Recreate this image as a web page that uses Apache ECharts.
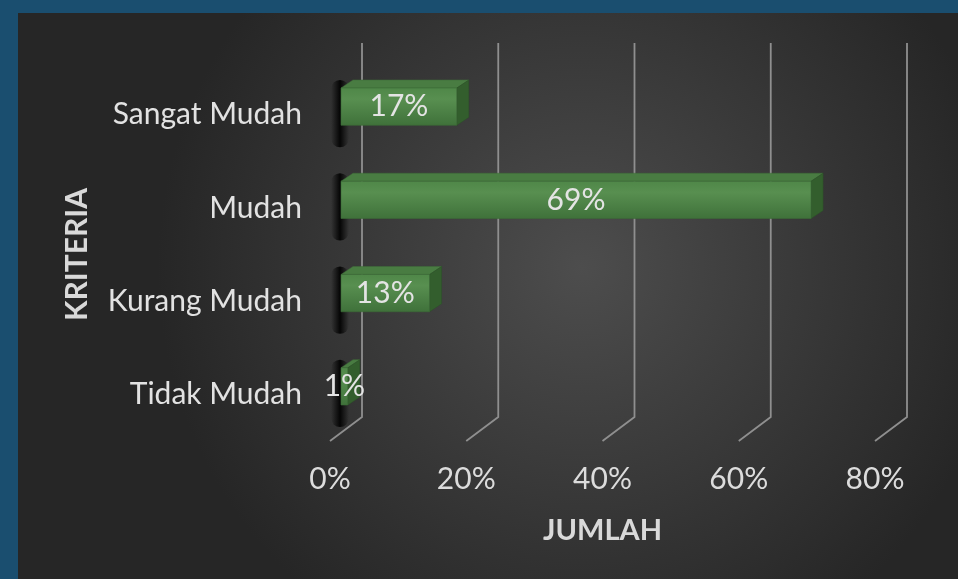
<!DOCTYPE html>
<html>
<head>
<meta charset="utf-8">
<script src="https://cdn.jsdelivr.net/npm/echarts@6/dist/echarts.min.js"></script>
<style>
  html, body { margin: 0; padding: 0; background: #1a4e6f; }
  #chart { width: 958px; height: 579px; }
</style>
</head>
<body>
<div id="chart"></div>
<script>
// data (top to bottom)
var categories = ['Sangat Mudah', 'Mudah', 'Kurang Mudah', 'Tidak Mudah'];
var values = [17, 69, 13, 1];
var ticks = [0, 20, 40, 60, 80];

var FONT = 'Lato';
var DEPTH_X = 32, DEPTH_Y = -24;   // 3d depth of the plot box

var chart = echarts.init(document.getElementById('chart'));

// back wall gridlines + floor diagonals
function renderGrid(params, api) {
    var cs = params.coordSys;
    var p = api.coord([api.value(0), 0]);
    var x = p[0];
    var bottom = cs.y + cs.height;
    return {
        type: 'polyline',
        shape: {
            points: [
                [x + DEPTH_X, cs.y + DEPTH_Y - 1],
                [x + DEPTH_X, bottom + DEPTH_Y],
                [x, bottom]
            ]
        },
        style: { fill: null, stroke: '#8f8f8f', lineWidth: 1.8 },
        silent: true
    };
}

// 3d bar: shadow, front, top, right face and the label
function renderBar(params, api) {
    var cat = api.value(1);
    var val = api.value(0);
    var p0 = api.coord([0, cat]);
    var p1 = api.coord([val, cat]);
    var band = api.size([0, 1])[1];
    var h = band * 0.4;
    var offX = 11, offY = -8;
    var dx = 12, dy = -8;
    var x0 = p0[0] + offX, x1 = p1[0] + offX;
    var cy = p0[1] + offY;
    var y0 = cy - h / 2, y1 = cy + h / 2;
    return {
        type: 'group',
        children: [
            {
                type: 'rect',
                shape: { x: x0 - 10, y: y0 - 8, width: 18, height: h + 30, r: 9 },
                style: {
                    fill: new echarts.graphic.LinearGradient(0, 0, 1, 0, [
                        { offset: 0, color: 'rgba(0,0,0,0)' },
                        { offset: 0.5, color: 'rgba(0,0,0,0.9)' },
                        { offset: 1, color: 'rgba(0,0,0,0)' }
                    ])
                },
                silent: true
            },
            {
                type: 'polygon',
                shape: { points: [[x0, y0], [x1, y0], [x1 + dx, y0 + dy], [x0 + dx, y0 + dy]] },
                style: { fill: '#497c42', stroke: '#3f6f39', lineWidth: 0.5 }
            },
            {
                type: 'polygon',
                shape: { points: [[x1, y0], [x1 + dx, y0 + dy], [x1 + dx, y1 + dy], [x1, y1]] },
                style: { fill: '#335e2d', stroke: '#2d5228', lineWidth: 0.5 }
            },
            {
                type: 'rect',
                shape: { x: x0, y: y0, width: x1 - x0, height: h },
                style: {
                    fill: new echarts.graphic.LinearGradient(0, 0, 0, 1, [
                        { offset: 0, color: '#4f8748' },
                        { offset: 0.3, color: '#588f50' },
                        { offset: 1, color: '#3f713a' }
                    ]),
                    stroke: '#3b6a35', lineWidth: 0.6
                }
            },
            {
                type: 'text',
                style: {
                    x: (x0 + x1) / 2, y: cy,
                    text: val + '%',
                    fill: '#e4e4e4',
                    font: '30px ' + FONT,
                    align: 'center', verticalAlign: 'middle'
                },
                z2: 10
            }
        ]
    };
}

var option = {
    backgroundColor: '#1a4e6f',
    animation: false,
    graphic: [
        {
            type: 'rect',
            z: -100,
            shape: { x: 18, y: 13, width: 940, height: 566 },
            style: {
                fill: new echarts.graphic.RadialGradient(0.6, 0.45, 0.75, [
                    { offset: 0, color: '#4d4d4d' },
                    { offset: 1, color: '#262626' }
                ])
            },
            silent: true
        }
    ],
    grid: {
        left: 330,
        width: 545,
        top: 68,
        bottom: 138
    },
    xAxis: {
        type: 'value',
        min: 0,
        max: 80,
        interval: 20,
        name: 'JUMLAH',
        nameLocation: 'middle',
        nameGap: 75,
        nameTextStyle: { color: '#d9d9d9', fontFamily: FONT, fontWeight: 'bold', fontSize: 29 },
        axisLine: { show: false },
        axisTick: { show: false },
        splitLine: { show: false },
        axisLabel: {
            color: '#dcdcdc',
            fontFamily: FONT,
            fontSize: 30,
            margin: 23,
            formatter: '{value}%'
        }
    },
    yAxis: {
        type: 'category',
        inverse: true,
        data: categories,
        name: 'KRITERIA',
        nameLocation: 'middle',
        nameRotate: 90,
        nameGap: 238,
        nameTextStyle: { color: '#d9d9d9', fontFamily: FONT, fontWeight: 'bold', fontSize: 30 },
        axisLine: { show: false },
        axisTick: { show: false },
        splitLine: { show: false },
        axisLabel: {
            color: '#e2e2e2',
            fontFamily: FONT,
            fontSize: 30,
            margin: 28
        }
    },
    series: [
        {
            type: 'custom',
            name: 'grid',
            silent: true,
            z: 1,
            renderItem: renderGrid,
            encode: { x: 0, y: 1 },
            data: ticks.map(function (t) { return [t, categories[0]]; })
        },
        {
            type: 'custom',
            name: 'JUMLAH',
            z: 3,
            renderItem: renderBar,
            encode: { x: 0, y: 1 },
            data: values.map(function (v, i) { return [v, categories[i]]; })
        }
    ]
};

chart.setOption(option);
</script>
</body>
</html>
